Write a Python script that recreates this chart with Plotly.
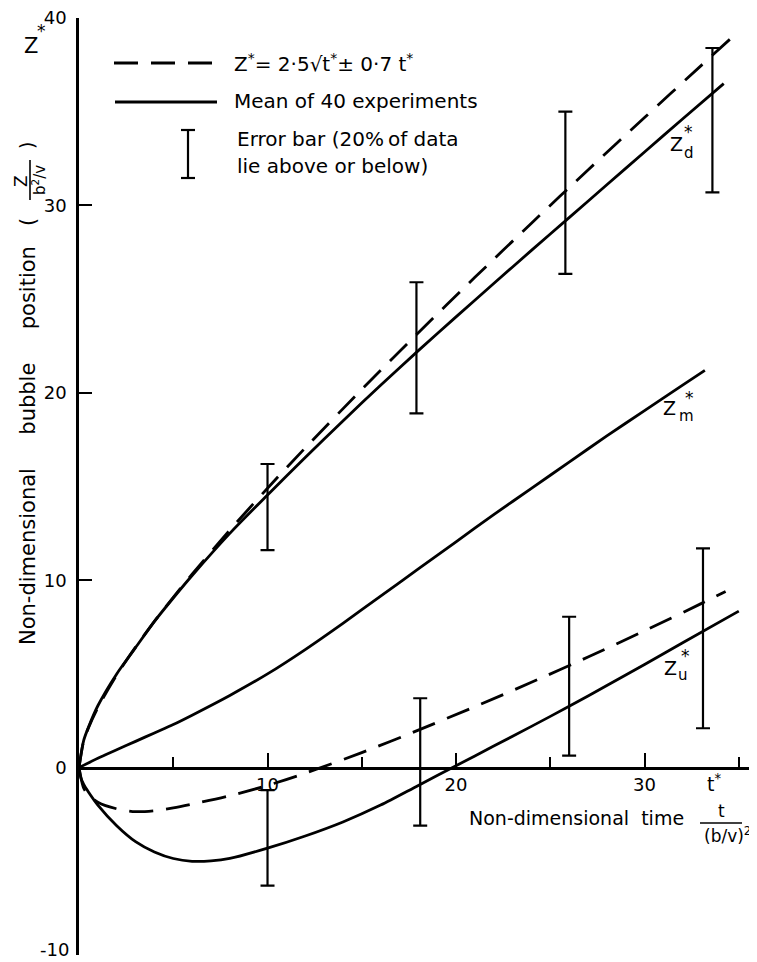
import plotly.graph_objects as go

# ---------------- data ----------------
# mean of experiments: Z_d* (upper solid)
t_zd = [0, 0.25, 0.5, 1, 2, 3, 4, 5, 6, 8, 10, 12, 14, 16, 18, 20, 22, 24, 26, 28, 30, 32, 34.2]
z_d = [0, 1.45, 2.15, 3.3, 5.0, 6.4, 7.8, 9.05, 10.25, 12.5, 14.55, 16.55, 18.5, 20.4, 22.25, 24.05, 25.83, 27.6, 29.35, 31.1, 32.85, 34.6, 36.5]

# Z_m* (middle solid)
t_zm = [0, 1, 2, 3, 4, 5, 6, 8, 10, 12, 14, 16, 18, 20, 22, 24, 26, 28, 30, 32, 33.2]
z_m = [0, 0.5, 0.95, 1.4, 1.85, 2.3, 2.8, 3.85, 5.0, 6.3, 7.7, 9.15, 10.6, 12.05, 13.5, 14.9, 16.3, 17.7, 19.05, 20.4, 21.2]

# Z_u* (lower solid)
t_zu = [0, 0.1, 0.25, 0.5, 1, 2, 3, 4, 5, 6, 7, 8, 10, 12, 14, 16, 18, 20, 22, 24, 26, 28, 30, 32, 35]
z_u = [0, -0.55, -0.9, -1.3, -2.0, -3.1, -3.95, -4.5, -4.85, -5.0, -4.98, -4.85, -4.3, -3.65, -2.9, -2.0, -0.95, 0.1, 1.15, 2.2, 3.27, 4.38, 5.5, 6.65, 8.35]

# Z* = 2.5 sqrt(t*) + 0.7 t*  (upper dashed)
t_dp = [0, 0.25, 0.5, 1, 2, 3, 4, 5, 6, 8, 10, 12, 15, 18, 21, 24, 27, 30, 33, 34.6]
z_dp = [0, 1.43, 2.12, 3.2, 4.94, 6.43, 7.8, 9.09, 10.32, 12.67, 14.91, 17.06, 20.18, 23.21, 26.16, 29.05, 31.89, 34.69, 37.46, 38.93]

# Z* = 0.7 t* - 2.5 sqrt(t*)  (lower dashed)
t_dm = [0, 0.25, 0.5, 1, 2, 3, 4, 5, 6, 8, 10, 12, 15, 18, 21, 24, 27, 30, 33, 34.3]
z_dm = [0, -1.1, -1.45, -1.85, -2.2, -2.35, -2.3, -2.15, -1.95, -1.5, -0.95, -0.3, 0.8, 2.0, 3.25, 4.55, 5.9, 7.3, 8.75, 9.4]

# error bars (20% of data lie above or below)
err_up_t = [10.0, 17.9, 25.8, 33.6]
err_up_lo = [11.6, 18.9, 26.35, 30.7]
err_up_hi = [16.2, 25.9, 35.0, 38.4]
err_dn_t = [10.0, 18.1, 26.0, 33.1]
err_dn_lo = [-6.3, -3.1, 0.64, 2.1]
err_dn_hi = [-1.2, 3.7, 8.05, 11.7]

x_ticks = [10, 20, 30]
x_minor = [5, 15, 25, 35]
y_ticks = [-10, 0, 10, 20, 30, 40]
y_ticktext = ["", "0", "10", "20", "30", "40"]   # "-10" is placed just above the page edge
y_bottom_label = "-10"

# ---------------- layout helpers ----------------
# the page body adds an 8px margin, so the figure is drawn 8px smaller
OFF = 8
W, H = 757 - OFF, 962 - OFF
ML, MR, MT, MB = 79 - OFF, 5, 18 - OFF, 7
PW, PH = W - ML - MR, H - MT - MB
FONT = "DejaVu Sans"


def px(x):
    # x given in window pixels
    return (x - OFF - ML) / PW


def py(y):
    return 1 - (y - OFF - MT) / PH


fig = go.Figure()

LW = 2.8
dash_pat = "24px,13px"

fig.add_trace(go.Scatter(x=t_dp, y=z_dp, mode="lines", line=dict(color="black", width=LW, dash=dash_pat, shape="spline", smoothing=0.8), hoverinfo="skip"))
fig.add_trace(go.Scatter(x=t_dm, y=z_dm, mode="lines", line=dict(color="black", width=LW, dash=dash_pat, shape="spline", smoothing=0.8), hoverinfo="skip"))
for tt, zz in [(t_zd, z_d), (t_zm, z_m), (t_zu, z_u)]:
    fig.add_trace(go.Scatter(x=tt, y=zz, mode="lines", line=dict(color="black", width=LW, shape="spline", smoothing=0.8), hoverinfo="skip"))

for et, lo, hi in [(err_up_t, err_up_lo, err_up_hi), (err_dn_t, err_dn_lo, err_dn_hi)]:
    mid = [(a + b) / 2 for a, b in zip(lo, hi)]
    half = [(b - a) / 2 for a, b in zip(lo, hi)]
    fig.add_trace(go.Scatter(
        x=et, y=mid, mode="markers",
        marker=dict(size=1, color="rgba(0,0,0,0)"),
        error_y=dict(type="data", array=half, visible=True, color="black", thickness=2.2, width=7),
        hoverinfo="skip"))

ann = []


def text(x, y, s, size=20, xanchor="left", yanchor="middle", angle=0):
    ann.append(dict(x=px(x), y=py(y), xref="paper", yref="paper", text=s, showarrow=False,
                    xanchor=xanchor, yanchor=yanchor, textangle=angle,
                    font=dict(family=FONT, size=size, color="black")))


shapes = []


def seg(x0, y0, x1, y1, w=2.5, dash=None):
    ln = dict(color="black", width=w)
    if dash:
        ln["dash"] = dash
    shapes.append(dict(type="line", xref="paper", yref="paper", x0=px(x0), y0=py(y0), x1=px(x1), y1=py(y1), line=ln))


# legend block
seg(114, 63, 217, 63, w=LW, dash=dash_pat)
text(232, 63, "Z<sup>*</sup>= 2·5√t<sup>*</sup>± 0·7 t<sup>*</sup>", size=20)
seg(115, 102, 217, 102, w=LW)
text(232, 101, "Mean of 40 experiments", size=20)
seg(188, 130, 188, 178, w=2.2)
seg(181, 130, 195, 130, w=2.2)
seg(181, 178, 195, 178, w=2.2)
text(235, 139, "Error bar (20%\u2009of data", size=20)
text(235, 166, "lie above or below)", size=20)

# curve labels
text(676, 144, "Z", size=19, xanchor="center")
text(689, 153, "d", size=15, xanchor="center")
text(688, 132, "*", size=17, xanchor="center")
text(669, 408, "Z", size=19, xanchor="center")
text(686, 416, "m", size=15, xanchor="center")
text(689, 398, "*", size=17, xanchor="center")
text(670, 668, "Z", size=19, xanchor="center")
text(683, 675, "u", size=15, xanchor="center")
text(685, 656, "*", size=17, xanchor="center")

# axis annotations
text(31, 46, "Z", size=21, xanchor="center")
text(41, 31, "*", size=17, xanchor="center")
text(71, 949, y_bottom_label, size=18, xanchor="right")
text(714, 783, "t<sup>*</sup>", size=19, xanchor="center")
text(467, 818, "Non-dimensional  time", size=19)
text(721, 811, "t", size=17, xanchor="center")
seg(700, 823, 742, 823, w=1.6)
text(727, 835, "(b/v)<sup>2</sup>", size=17, xanchor="center")

# y-axis title (rotated)
text(28, 432, "Non-dimensional     bubble     position   (", size=21, xanchor="center", angle=-90)
text(21, 181, "Z", size=17, xanchor="center", angle=-90)
seg(30, 160, 30, 200, w=1.6)
text(39, 180, "b<sup>2</sup>/v", size=15, xanchor="center", angle=-90)
text(27, 146, ")", size=19, xanchor="center", angle=-90)

fig.update_layout(
    width=W, height=H,
    margin=dict(l=ML, r=MR, t=MT, b=MB, pad=0, autoexpand=False),
    paper_bgcolor="white", plot_bgcolor="white",
    showlegend=False,
    font=dict(family=FONT, size=18, color="black"),
    annotations=ann, shapes=shapes,
    xaxis=dict(range=[0, 35.7], anchor="free", position=0.2, side="bottom",
               showline=True, linecolor="black", linewidth=2.6,
               tickmode="array", tickvals=x_ticks, ticks="inside", ticklen=14, tickwidth=2.2, tickcolor="black",
               minor=dict(tickmode="array", tickvals=x_minor, ticks="inside", ticklen=10, tickwidth=2.2, tickcolor="black"),
               showgrid=False, zeroline=False, tickfont=dict(size=18, family=FONT)),
    yaxis=dict(range=[-10, 40], domain=[0, 1], showline=True, linecolor="black", linewidth=2.6,
               tickmode="array", tickvals=y_ticks, ticktext=y_ticktext,
               ticks="inside", ticklen=13, tickwidth=2.2, tickcolor="black",
               ticklabeloverflow="allow",
               showgrid=False, zeroline=False, ticklabelstandoff=6, tickfont=dict(size=18, family=FONT)),
)

fig.write_html("out.html")
